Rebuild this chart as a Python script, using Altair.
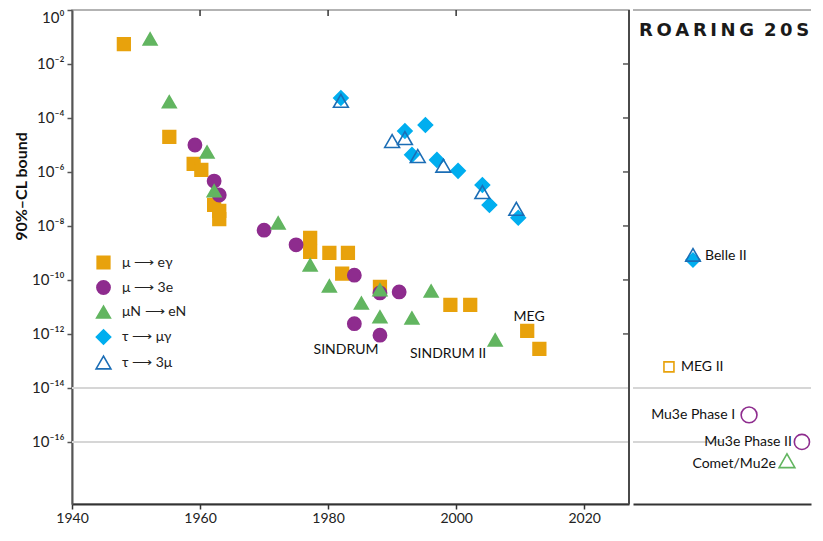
import altair as alt
import pandas as pd

FONT = "Lato"
AX = "#555555"

# ---------------- data ----------------
series_names = ["μ ⟶ eγ", "μ ⟶ 3e", "μN ⟶ eN", "τ ⟶ μγ", "τ ⟶ 3μ"]
series_shapes = ["square", "circle", "triangle-up", "diamond", "triangle-up"]
series_fill = ["#E8A20C", "#8E2C8E", "#62B560", "#00AEEF", "transparent"]
series_stroke = ["#E8A20C", "#8E2C8E", "#62B560", "#00AEEF", "#1B6DB5"]
series_size = [160, 220, 200, 190, 220]

# mu -> e gamma
meg_year = [1948.1, 1955.2, 1959.0, 1960.2, 1962.2, 1963.0, 1963.0, 1977.2, 1977.2,
            1980.2, 1983.1, 1982.2, 1988.1, 1999.1, 2002.2, 2011.1, 2013.0]
meg_val = [5.5e-2, 2e-5, 2e-6, 1.2e-6, 6e-8, 3.6e-8, 1.8e-8, 3.6e-9, 1.1e-9,
           1e-9, 1e-9, 1.7e-10, 5.5e-11, 1.2e-11, 1.2e-11, 1.3e-12, 2.8e-13]
# mu -> 3e
m3e_year = [1959.2, 1962.2, 1963.0, 1970.0, 1975.0, 1984.1, 1988.1, 1991.1, 1984.1, 1988.1]
m3e_val = [1e-5, 4.6e-7, 1.4e-7, 7e-9, 2e-9, 1.5e-10, 3.3e-11, 3.6e-11, 2.4e-12, 9e-13]
# mu N -> e N
mue_year = [1952.2, 1955.2, 1961.1, 1962.2, 1972.2, 1977.2, 1980.2, 1985.2, 1988.1,
            1988.1, 1993.1, 1996.1, 2006.1]
mue_val = [8.5e-2, 4e-4, 5.5e-6, 2e-7, 1.3e-8, 3.6e-10, 6e-11, 1.4e-11, 4.3e-11,
           4.3e-12, 3.9e-12, 3.9e-11, 6e-13]
# tau -> mu gamma
tmg_year = [1982.0, 1992.0, 1995.2, 1993.1, 1997.0, 2000.3, 2004.1, 2005.2, 2009.7]
tmg_val = [5.5e-4, 3.3e-5, 5.5e-5, 4.3e-6, 2.8e-6, 1.1e-6, 3.3e-7, 6e-8, 2e-8]
# tau -> 3 mu
t3m_year = [1982.0, 1990.0, 1992.0, 1994.0, 1998.0, 2004.1, 2009.4]
t3m_val = [4.3e-4, 1.4e-5, 1.8e-5, 3.9e-6, 1.7e-6, 1.8e-7, 4.3e-8]

ann_text = ["SINDRUM", "SINDRUM II", "MEG"]
ann_year = [1982.8, 1998.75, 2011.4]
ann_val = [10 ** -12.6, 10 ** -12.74, 10 ** -11.37]

grid_val = [1e-14, 1e-16]
right_tick_val = [1e-2, 1e-4, 1e-6, 1e-8, 1e-10, 1e-12]
top_tick_year = [1960, 1980, 2000]
x_tick_year = [1940, 1960, 1980, 2000, 2020]

# future-experiments panel
fut_name = ["Belle II (τ→μγ)", "Belle II (τ→3μ)", "MEG II", "Mu3e Phase I", "Mu3e Phase II", "Comet/Mu2e"]
fut_pos = [33.7, 33.7, 20.2, 65.2, 94.9, 86.5]
fut_val = [5.5e-10, 8.5e-10, 6e-14, 1e-15, 1e-16, 2e-17]
fut_shape = ["diamond", "triangle-up", "square", "circle", "circle", "triangle-up"]
fut_stroke = ["#00AEEF", "#1B6DB5", "#E8A20C", "#8E2C8E", "#8E2C8E", "#62B560"]
fut_fill = ["#00AEEF", "transparent", "transparent", "transparent", "transparent", "transparent"]
fut_size = [190, 210, 100, 250, 230, 250]

lab_text = ["Belle II", "MEG II", "Mu3e Phase I", "Mu3e Phase II", "Comet/Mu2e"]
lab_pos = [33.7, 20.2, 65.2, 94.9, 86.5]
lab_val = [7.8e-10, 6e-14, 1e-15, 1e-16, 2e-17]
lab_dx = [12, 12, -14, -10, -11]
lab_dy = [0, 0, 0, 0, 3]
lab_align = ["left", "left", "right", "right", "right"]

fgrid_val = [1e-14, 1e-16]
fgrid_x = [0, 0]
fgrid_x2 = [100, 50]

banner = "R\u2009O\u2009A\u2009R\u2009I\u2009N\u2009G \u20092\u20090\u2009S"

# ---------------- build tables ----------------
rows = []
for name, ys, vs in zip(series_names, [meg_year, m3e_year, mue_year, tmg_year, t3m_year],
                        [meg_val, m3e_val, mue_val, tmg_val, t3m_val]):
    for yr, v in zip(ys, vs):
        rows.append({"series": name, "year": yr, "val": v})
pts = pd.DataFrame(rows)

XDOM = [1940, 2027]
YDOM = [10 ** -18.3, 1.0]
W_MAIN, W_FUT, H = 557, 178, 494

sup = str.maketrans("0123456789-", "⁰¹²³⁴⁵⁶⁷⁸⁹⁻")
ytick_vals = [10.0 ** -e for e in range(0, 17, 2)]
label_expr = ""
for e in range(0, 17, 2):
    label_expr += f"round(log(datum.value)/LN10) == {-e} ? '10{str(-e).translate(sup)}' : "
label_expr += "''"

xscale = alt.Scale(domain=XDOM, nice=False, zero=False)
yscale = alt.Scale(type="log", domain=YDOM, nice=False)

xaxis = alt.Axis(values=x_tick_year, format="d", grid=False, tickSize=5, tickColor="#333",
                 tickWidth=1.5, domainColor="#333", domainWidth=2, labelFont=FONT,
                 labelFontSize=14, labelColor="#222", labelPadding=2, labelFlush=False,
                 title=None)
yaxis = alt.Axis(values=ytick_vals, labelExpr=label_expr, grid=False, tickSize=5,
                 tickColor=AX, tickWidth=1.5, domainColor=AX, domainWidth=2,
                 labelFont=FONT, labelFontSize=15, labelColor="#222", labelPadding=3,
                 labelFlush=True, title="90%–CL bound", titleFont=FONT, titleFontSize=16,
                 titleFontWeight="bold", titleColor="#111", titleAngle=270,
                 titleAlign="center", titleBaseline="middle", titleX=-51, titleY=176)


def X(field):
    return alt.X(field, type="quantitative", scale=xscale, axis=xaxis)


def Y(field):
    return alt.Y(field, type="quantitative", scale=yscale, axis=yaxis)


leg = alt.Legend(title=None, orient="none", legendX=23, legendY=245, labelFont=FONT,
                 labelFontSize=14, labelColor="#222", rowPadding=4, labelOffset=10,
                 symbolStrokeWidth=1.6, padding=0)

grid = alt.Chart(pd.DataFrame({"val": grid_val})).mark_rule(
    color="#d6d6d6", strokeWidth=2).encode(y=Y("val"))
right_edge = alt.Chart(pd.DataFrame({"year": [XDOM[1]]})).mark_rule(
    color="#4a4a4a", strokeWidth=2).encode(x=X("year"))
rticks = alt.Chart(pd.DataFrame({"val": right_tick_val})).mark_rule(
    color=AX, strokeWidth=1.5).encode(y=Y("val"), x=alt.value(W_MAIN - 6), x2=alt.value(W_MAIN))
tticks = alt.Chart(pd.DataFrame({"year": top_tick_year})).mark_rule(
    color="#333", strokeWidth=1.5).encode(x=X("year"), y=alt.value(0), y2=alt.value(6))

points = alt.Chart(pts).mark_point(filled=True, opacity=1, strokeWidth=1.6).encode(
    x=X("year"),
    y=Y("val"),
    shape=alt.Shape("series:N", scale=alt.Scale(domain=series_names, range=series_shapes), legend=leg),
    fill=alt.Fill("series:N", scale=alt.Scale(domain=series_names, range=series_fill), legend=leg),
    stroke=alt.Stroke("series:N", scale=alt.Scale(domain=series_names, range=series_stroke), legend=leg),
    size=alt.Size("series:N", scale=alt.Scale(domain=series_names, range=series_size), legend=leg),
)

ann = alt.Chart(pd.DataFrame({"t": ann_text, "year": ann_year, "val": ann_val})).mark_text(
    font=FONT, fontSize=14, color="#111").encode(x=X("year"), y=Y("val"), text="t:N")

left = alt.layer(grid, rticks, tticks, right_edge, points, ann).properties(
    width=W_MAIN, height=H)

# ---------------- future panel ----------------
fxscale = alt.Scale(domain=[0, 100], nice=False, zero=False)
fxaxis = alt.Axis(domain=True, domainColor="#333", domainWidth=2, ticks=False, labels=False,
                  title=None, grid=False)


def FX(field):
    return alt.X(field, type="quantitative", scale=fxscale, axis=fxaxis)


def FY(field):
    return alt.Y(field, type="quantitative", scale=yscale, axis=None)


fgrid = alt.Chart(pd.DataFrame({"val": fgrid_val, "x": fgrid_x, "x2": fgrid_x2})).mark_rule(
    color="#d6d6d6", strokeWidth=2, clip=True).encode(y=FY("val"), x=FX("x"), x2="x2:Q")
ftop = alt.Chart(pd.DataFrame({"val": [YDOM[1]]})).mark_rule(
    color="#9a9a9a", strokeWidth=1.5).encode(y=FY("val"))
fut = pd.DataFrame({"name": fut_name, "pos": fut_pos, "val": fut_val, "shape": fut_shape,
                    "stroke": fut_stroke, "fill": fut_fill, "size": fut_size})
fpts = alt.Chart(fut).mark_point(filled=True, opacity=1, strokeWidth=1.6).encode(
    x=FX("pos"), y=FY("val"),
    shape=alt.Shape("shape:N", scale=None, legend=None),
    fill=alt.Fill("fill:N", scale=None, legend=None),
    stroke=alt.Stroke("stroke:N", scale=None, legend=None),
    size=alt.Size("size:Q", scale=None, legend=None),
)
flabels = []
for t, p, v, dx, dy, al in zip(lab_text, lab_pos, lab_val, lab_dx, lab_dy, lab_align):
    flabels.append(
        alt.Chart(pd.DataFrame({"t": [t], "pos": [p], "val": [v]})).mark_text(
            font=FONT, fontSize=14, color="#111", dx=dx, dy=dy, align=al
        ).encode(x=FX("pos"), y=FY("val"), text="t:N")
    )
fbanner = alt.Chart(pd.DataFrame({"t": [banner]})).mark_text(
    font="DejaVu Sans", fontSize=18, fontWeight="bold", color="#1a1a1a", align="left",
    baseline="middle"
).encode(text="t:N", x=alt.value(6), y=alt.value(21))

right = alt.layer(fgrid, ftop, fpts, *flabels, fbanner).properties(
    width=W_FUT, height=H, view=alt.ViewBackground(stroke="transparent"))

chart = alt.hconcat(left, right, spacing=0).resolve_scale(
    fill="independent", stroke="independent", shape="independent", size="independent"
).resolve_legend(
    fill="independent", stroke="independent", shape="independent", size="independent"
).properties(
    padding={"left": 4, "top": 0, "right": 0, "bottom": 0}
).configure_view(stroke="#9a9a9a", strokeWidth=1.5)

chart.save("out.html", embed_options={"renderer": "svg", "actions": False})
